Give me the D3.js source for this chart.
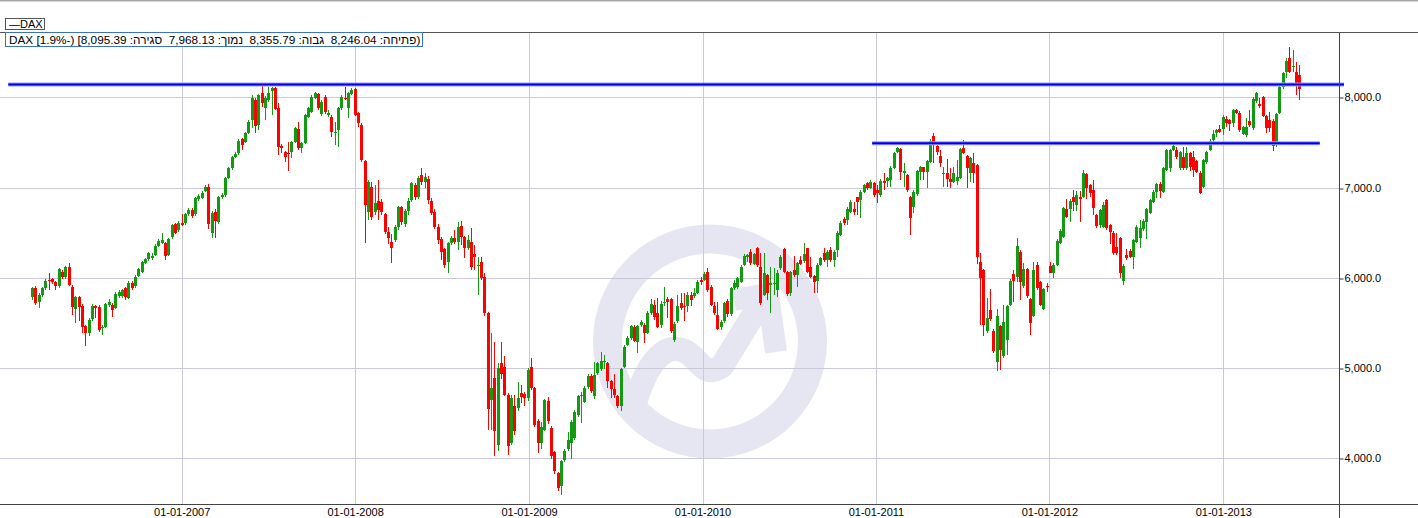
<!DOCTYPE html>
<html><head><meta charset="utf-8">
<script src="https://cdn.jsdelivr.net/npm/d3@7"></script>
<style>
html,body{margin:0;padding:0;background:#fff;overflow:hidden;}
svg{display:block;font-family:"Liberation Sans",Arial,sans-serif;}
</style>
</head><body>
<svg id="chart" width="1418" height="518"></svg>
<script>
// ---------- DATA (weekly candles, DAX) ----------
const seriesName = "DAX";
const firstWeek = "2006-02-20";
const opens = [
5792,5884,5737,5811,5884,5980,5984,5951,5910,6069,
6006,6124,5903,5652,5785,5689,5467,5386,5541,5690,
5674,5441,5460,5700,5700,5663,5800,5800,5884,5774,
5940,5910,6021,6069,6169,6205,6217,6254,6353,6390,
6390,6254,6449,6593,6530,6612,6604,6708,6752,6708,
6870,6881,6966,7003,6501,6733,6623,6892,6918,7102,
7213,7342,7379,7535,7509,7601,7749,7970,7690,8044,
7878,7970,8070,8107,7878,7464,7398,7387,7391,7509,
7649,7435,7490,7786,7841,7996,8037,7811,8007,7800,
7786,7600,7638,7878,7995,7878,8033,8092,7822,7693,
7295,6734,7010,6734,6852,6844,6704,6512,6400,6420,
6560,6780,6600,6740,6860,7030,6890,7140,7060,7100,
6850,6730,6560,6427,6320,6180,6383,6438,6401,6575,
6449,6327,6401,6260,6140,6180,6013,5607,4648,4888,
4149,5061,5017,4703,4168,4574,4555,4721,4710,4666,
5017,4777,4408,4168,4316,4640,4341,4065,3836,3688,
3983,4101,4175,4223,4482,4685,4629,4788,4914,4685,
4943,4987,5070,5054,4851,4766,4685,4574,5017,5257,
5331,5460,5294,5478,5478,5393,5607,5700,5608,5479,
5719,5763,5763,5313,5516,5719,5689,5689,5811,5800,
5837,5977,5977,6069,5903,5682,5589,5460,5516,5748,
5600,5885,5896,5958,6143,6235,6291,6154,6328,6125,
5811,6032,5922,5940,5866,6106,6316,6069,5837,6088,
6032,6198,6191,6328,6125,6021,5970,6143,6272,6198,
6309,6198,6309,6475,6649,6641,6734,6759,6892,6863,
6955,7047,6992,7055,6974,6918,7073,7073,7085,7221,
7398,7424,7166,7140,6893,6782,6930,7177,7225,7177,
7288,7572,7461,7350,7155,7166,7092,7066,7077,7103,
7435,7350,7158,7277,7251,6180,6081,5405,5638,5416,
5062,5461,5128,5313,5700,6044,6014,6291,5904,6095,
5763,5579,6143,5948,5652,5905,6132,6058,6143,6391,
6450,6760,6760,6893,6808,6900,6900,7151,7029,6974,
6697,6587,6568,6863,6587,6501,6339,6439,5970,6254,
6302,6229,6402,6439,6538,6623,6723,6845,6956,7040,
6956,7196,7214,7417,7417,7214,7343,7214,7380,7336,
7299,7166,7011,7288,7417,7528,7609,7646,7646,7760,
7749,7719,7860,7830,7594,7583,7742,7657,7963,7926,
8000,7793,7749,7742,7509,7830,8111,8284,8432,8340,
8284,8246.04];
const highs = [
5903,5910,5830,5900,5990,6050,6000,5970,6110,6090,
6130,6161,5920,5800,5800,5710,5480,5560,5710,5700,
5700,5480,5720,5760,5720,5840,5870,5880,5900,5960,
5960,6030,6110,6190,6220,6290,6270,6370,6430,6493,
6400,6440,6600,6610,6630,6708,6720,6770,6770,6890,
6930,6960,7030,7040,6740,6760,6910,6940,7120,7230,
7350,7390,7540,7550,7620,7745,8026,7989,8040,8136,
8010,8118,8118,8118,7933,7480,7410,7509,7520,7670,
7730,7510,7820,7890,8020,8060,8050,7970,8020,7860,
7800,7730,7890,8020,8118,8060,8100,8100,7840,7710,
7310,7084,7066,7029,7084,6870,6720,6560,6480,6590,
6800,6800,6760,6880,7060,7050,7130,7221,7160,7130,
6880,6760,6600,6449,6330,6400,6460,6530,6620,6630,
6460,6475,6550,6365,6235,6235,6050,5620,5386,5294,
5054,5294,5130,4720,4700,4700,4850,4810,4730,5000,
5110,4790,4430,4400,4660,4680,4360,4080,3850,3980,
4100,4286,4420,4530,4700,4740,4800,4930,4930,5072,
5070,5183,5140,5070,4870,4936,4700,5000,5250,5350,
5480,5480,5480,5530,5500,5630,5762,5755,5774,5748,
5903,5792,5780,5510,5811,5837,5837,5848,5848,5885,
5975,6014,6060,6106,5920,5737,5737,5534,5737,5763,
5900,5977,6010,6140,6260,6265,6317,6280,6339,6280,
6272,6045,6125,6106,6088,6254,6328,6080,6080,6243,
6175,6243,6390,6328,6228,6035,6160,6230,6328,6310,
6339,6310,6520,6630,6678,6780,6860,6844,6900,6970,
7040,7066,7080,7066,7029,7090,7158,7120,7235,7395,
7450,7440,7269,7155,6910,6970,7200,7240,7232,7310,
7535,7609,7475,7417,7232,7313,7214,7232,7306,7435,
7528,7365,7340,7380,7265,6273,6095,5775,5874,5430,
5653,5475,5700,5700,5985,6081,6439,6305,6162,6110,
5780,6180,6180,5960,5890,5940,6180,6160,6430,6540,
6785,6870,6870,6974,6960,6960,7195,7165,7040,7085,
6710,6765,6845,6875,6600,6515,6494,6450,6150,6317,
6320,6435,6580,6642,6650,6775,6875,6970,7055,7066,
7230,7430,7430,7491,7454,7410,7446,7446,7390,7410,
7310,7180,7320,7410,7535,7638,7650,7694,7800,7793,
7760,7875,7867,7845,7680,7768,7860,8007,8063,7989,
8015,7805,7841,7755,7830,8130,8284,8432,8561,8524,
8395,8355.79];
const lows = [
5755,5700,5663,5790,5870,5866,5930,5866,5890,5990,
5990,5910,5589,5497,5526,5386,5246,5360,5520,5552,
5400,5368,5440,5680,5571,5650,5780,5780,5755,5760,
5870,5890,6010,6050,6150,6190,6200,6240,6340,6380,
6198,6240,6430,6480,6510,6570,6590,6690,6660,6690,
6850,6870,6950,6538,6438,6438,6600,6870,6900,7090,
7200,7330,7360,7420,7490,7590,7656,7600,7640,7896,
7749,7950,7804,7859,7361,7380,7287,7188,7324,7490,
7420,7380,7480,7770,7830,7980,7860,7790,7820,7780,
7564,7470,7453,7860,7970,7770,8020,7796,7675,7287,
6383,6641,6641,6700,6641,6700,6490,6380,6162,6400,
6530,6590,6560,6700,6840,6860,6870,7030,6990,6820,
6700,6540,6380,6198,6110,6050,6360,6380,6310,6365,
6216,6310,6088,6088,5810,5977,5580,4316,4316,4020,
4076,4880,4685,4039,4150,4260,4520,4610,4580,4640,
4760,4350,4058,4100,4300,4380,3990,3830,3633,3596,
3960,4080,3990,4200,4460,4390,4610,4770,4720,4660,
4920,4970,4990,4777,4666,4666,4560,4519,5000,5240,
5310,5290,5165,5460,5275,5380,5590,5535,5442,5442,
5682,5553,5386,5294,5497,5645,5516,5626,5682,5780,
5820,5922,5960,5848,5682,5589,5423,5423,5497,5571,
5580,5870,5880,5940,6130,6180,6140,6140,6125,5700,
5800,5755,5608,5811,5792,6088,6050,5800,5800,6014,
5903,6140,6160,6050,5995,5837,5829,6130,6180,6125,
6180,6125,6235,6460,6590,6586,6720,6697,6697,6660,
6940,6970,6980,6893,6834,6900,6974,7003,7011,7210,
7380,7085,7011,6955,6476,6715,6910,7085,7085,6992,
7270,7277,7361,7232,7011,7011,6992,7050,7029,7090,
7370,6992,7066,7048,6155,5479,5350,5390,5520,5165,
4962,4981,5110,5147,5685,5737,5959,5756,5885,5780,
5368,5571,5870,5682,5645,5848,6050,5996,6130,6380,
6440,6660,6623,6745,6735,6623,6880,6871,6900,6697,
6550,6550,6550,6530,6376,6255,6255,5996,5922,6200,
6220,6096,6390,6328,6520,6428,6710,6830,6882,6882,
6940,7180,7177,7400,7320,7200,7200,7200,7188,7114,
7166,6930,6993,7262,7400,7510,7565,7602,7583,7675,
7631,7668,7810,7620,7580,7557,7675,7640,7934,7878,
7786,7609,7620,7410,7446,7815,8090,8210,8266,8284,
8026,7968.13];
const closes = [
5884,5718,5811,5884,5969,5960,5951,5910,6098,6006,
6117,5921,5674,5785,5674,5460,5386,5534,5689,5660,
5423,5460,5707,5737,5640,5822,5848,5866,5785,5940,
5884,6014,6095,6180,6205,6272,6242,6353,6412,6420,
6242,6427,6586,6501,6612,6586,6708,6752,6685,6881,
6907,6944,7003,6597,6722,6634,6899,6918,7102,7213,
7335,7372,7520,7472,7601,7730,7996,7680,8020,7933,
7996,8044,8107,7867,7453,7435,7343,7376,7509,7656,
7435,7490,7804,7878,8007,8044,7878,7952,7841,7822,
7620,7610,7878,8007,7985,8044,8081,7804,7712,7306,
6807,7066,6678,6826,6752,6734,6512,6446,6330,6568,
6780,6620,6740,6850,7047,6890,7110,7060,7120,6860,
6720,6560,6420,6290,6143,6390,6438,6401,6567,6449,
6327,6420,6124,6235,6146,5995,5607,4544,4777,4297,
4998,4936,4703,4131,4666,4297,4666,4684,4666,4980,
4777,4371,4168,4352,4648,4408,4020,3854,3670,3965,
4076,4205,4397,4508,4685,4705,4777,4914,4751,4925,
5054,5083,5075,4851,4766,4703,4574,4987,5238,5331,
5467,5305,5467,5515,5386,5615,5711,5571,5460,5711,
5737,5737,5405,5490,5689,5663,5674,5811,5755,5837,
5958,5958,6043,5866,5700,5608,5431,5505,5726,5600,
5885,5940,5995,6125,6243,6254,6162,6265,6143,5719,
6051,5829,5940,5945,6051,6228,6069,5822,6069,6032,
6162,6154,6265,6069,6007,5958,6143,6217,6198,6291,
6198,6291,6501,6612,6604,6759,6844,6734,6844,6955,
7029,6992,7066,6918,6944,7077,7055,7103,7221,7380,
7435,7177,7184,6974,6660,6956,7188,7225,7177,7299,
7520,7472,7398,7269,7160,7092,7066,7166,7114,7424,
7387,7214,7325,7158,6236,5996,5479,5553,5542,5184,
5579,5202,5505,5682,5970,5970,6354,5959,6095,5793,
5498,6081,5885,5700,5874,5900,6058,6143,6413,6524,
6771,6679,6856,6845,6918,6870,7166,6992,6945,6771,
6575,6753,6808,6550,6513,6273,6273,6051,6132,6217,
6236,6420,6568,6550,6634,6760,6863,6956,7040,6967,
7214,7417,7417,7461,7336,7398,7214,7380,7225,7196,
7177,6945,7306,7398,7520,7594,7638,7620,7786,7712,
7705,7860,7830,7638,7668,7668,7694,7978,8044,7904,
7793,7657,7657,7461,7816,8118,8273,8406,8284,8347,
8155,8095.39];

const yTickValues = [4000, 5000, 6000, 7000, 8000];
const xTickDates = ["2007-01-01","2008-01-01","2009-01-01","2010-01-01","2011-01-01","2012-01-01","2013-01-01"];
const levelValues = [8142, 7491];
const levelStarts = ["2006-01-01", "2010-12-24"];
const levelEnds   = ["2013-09-12", "2013-07-23"];
const infoLabels = ["פתיחה", "גבוה", "נמוך", "סגירה"];
const lastChangePct = "1.9%-";

// ---------- sanity ----------
[opens, highs, lows, closes].forEach(a => { if (a.length !== opens.length) throw new Error("length mismatch " + a.length + " vs " + opens.length); });

const parse = d3.timeParse("%Y-%m-%d");
const start = parse(firstWeek);
const candles = opens.map((o, i) => ({
  date: d3.timeDay.offset(start, 7 * i),
  o, h: highs[i], l: lows[i], c: closes[i]
}));

// ---------- layout ----------
const W = 1418, H = 518;
const plotRight = 1339, plotTop = 32, plotBottom = 504.5;
const svg = d3.select("#chart");

const x = d3.scaleTime()
  .domain([parse("2007-01-01"), parse("2013-01-01")])
  .range([181.7, 1223.3]);
const y = d3.scaleLinear()
  .domain([4000, 8000])
  .range([458.3, 97.3]);

const gridColor = "#c9c9d9";

// top hairline of the page
svg.append("rect").attr("x", 0).attr("y", 0).attr("width", W).attr("height", 1.5).attr("fill", "#a9a9a9");

// ---------- watermark ----------
const wm = svg.append("g").attr("fill", "none").attr("stroke", "#e6e6f2");
wm.append("circle").attr("cx", 710).attr("cy", 341.5).attr("r", 102.5).attr("stroke-width", 29);
wm.append("path")
  .attr("d", "M636,400 C648,362 664,344 682,350 C700,356 702,380 722,366 L760,304")
  .attr("stroke-width", 24).attr("stroke-linejoin", "round");
wm.append("path")
  .attr("d", "M734,300 L768,294 L776,352")
  .attr("stroke-width", 22).attr("stroke-linejoin", "miter");

// ---------- grid ----------
const grid = svg.append("g").attr("shape-rendering", "crispEdges");
grid.selectAll(".hg").data(yTickValues).join("line")
  .attr("x1", 0).attr("x2", plotRight)
  .attr("y1", d => Math.round(y(d)) + 0.5).attr("y2", d => Math.round(y(d)) + 0.5)
  .attr("stroke", gridColor);
grid.selectAll(".vg").data(xTickDates.map(parse)).join("line")
  .attr("x1", d => Math.round(x(d)) + 0.5).attr("x2", d => Math.round(x(d)) + 0.5)
  .attr("y1", plotTop).attr("y2", plotBottom)
  .attr("stroke", gridColor);

// ---------- candles ----------
const up = "#139a13", down = "#ff0000";
const cg = svg.append("g").attr("shape-rendering", "crispEdges");
const cand = cg.selectAll("g.c").data(candles).join("g")
  .attr("fill", d => d.c >= d.o ? up : down);
cand.append("rect")
  .attr("x", d => Math.round(x(d.date)))
  .attr("width", 1)
  .attr("y", d => y(d.h))
  .attr("height", d => Math.max(1, y(d.l) - y(d.h)));
cand.append("rect")
  .attr("x", d => Math.round(x(d.date)) - 1)
  .attr("width", 3)
  .attr("y", d => y(Math.max(d.o, d.c)))
  .attr("height", d => Math.max(1, Math.abs(y(d.o) - y(d.c))));

// ---------- level lines ----------
const lv = svg.append("g");
levelValues.forEach((v, i) => {
  const x1 = x(parse(levelStarts[i])), x2 = x(parse(levelEnds[i]));
  lv.append("line").attr("x1", x1).attr("x2", x2).attr("y1", y(v)).attr("y2", y(v))
    .attr("stroke", "#9a9aff").attr("stroke-width", 4);
  lv.append("line").attr("x1", x1).attr("x2", x2).attr("y1", y(v)).attr("y2", y(v))
    .attr("stroke", "#0000ee").attr("stroke-width", 2.2);
});

// ---------- axes ----------
const yAxis = d3.axisRight(y).tickValues(yTickValues).tickFormat(d3.format(",.1f"))
  .tickSize(4).tickPadding(1);
const gy = svg.append("g").attr("transform", `translate(${plotRight + 0.5},0)`).call(yAxis);
gy.select(".domain").remove();
gy.selectAll("line").attr("stroke", "#333").attr("transform", d => `translate(0,${Math.round(y(d)) + 0.5 - y(d)})`);
gy.selectAll("text").attr("font-size", 11).attr("font-family", "Liberation Sans, Arial").attr("fill", "#000");

const xAxis = d3.axisBottom(x).tickValues(xTickDates.map(parse))
  .tickFormat(d3.timeFormat("%d-%m-%Y")).tickSize(0).tickPadding(4);
const gx = svg.append("g").attr("transform", `translate(0,${plotBottom})`).call(xAxis);
gx.select(".domain").remove();
gx.selectAll("text").attr("font-size", 11).attr("font-family", "Liberation Sans, Arial").attr("fill", "#000");

// axis lines / frame
svg.append("line").attr("x1", 0).attr("x2", W).attr("y1", plotBottom).attr("y2", plotBottom)
  .attr("stroke", "#444").attr("shape-rendering", "crispEdges");
svg.append("line").attr("x1", plotRight + 0.5).attr("x2", plotRight + 0.5).attr("y1", plotTop).attr("y2", H)
  .attr("stroke", "#444").attr("shape-rendering", "crispEdges");
svg.append("line").attr("x1", 0).attr("x2", W).attr("y1", plotTop + 0.5).attr("y2", plotTop + 0.5)
  .attr("stroke", "#555").attr("shape-rendering", "crispEdges");

// ---------- legend + info box ----------
svg.append("rect").attr("x", 5.5).attr("y", 18.5).attr("width", 39).attr("height", 11)
  .attr("fill", "#fff").attr("stroke", "#555");
svg.append("text").attr("x", 9).attr("y", 27.5).attr("font-size", 11).text("\u2014" + seriesName);

const last = candles[candles.length - 1];
const fmt = d3.format(",.2f");
const LRM = "\u200E";
const infoText = `${seriesName} [${lastChangePct}) [${fmt(last.c)} :${infoLabels[3]}${LRM}  ${fmt(last.l)} :${infoLabels[2]}${LRM}  ${fmt(last.h)} :${infoLabels[1]}${LRM}  ${fmt(last.o)} :${infoLabels[0]}${LRM})`;
svg.append("rect").attr("x", 5.5).attr("y", 32.5).attr("width", 417).attr("height", 14)
  .attr("fill", "#fff").attr("stroke", "#3b6fd4");
svg.append("text").attr("x", 9).attr("y", 43.5).attr("font-size", 11.75)
  .attr("direction", "ltr").style("white-space", "pre").text(infoText);
</script>
</body></html>
